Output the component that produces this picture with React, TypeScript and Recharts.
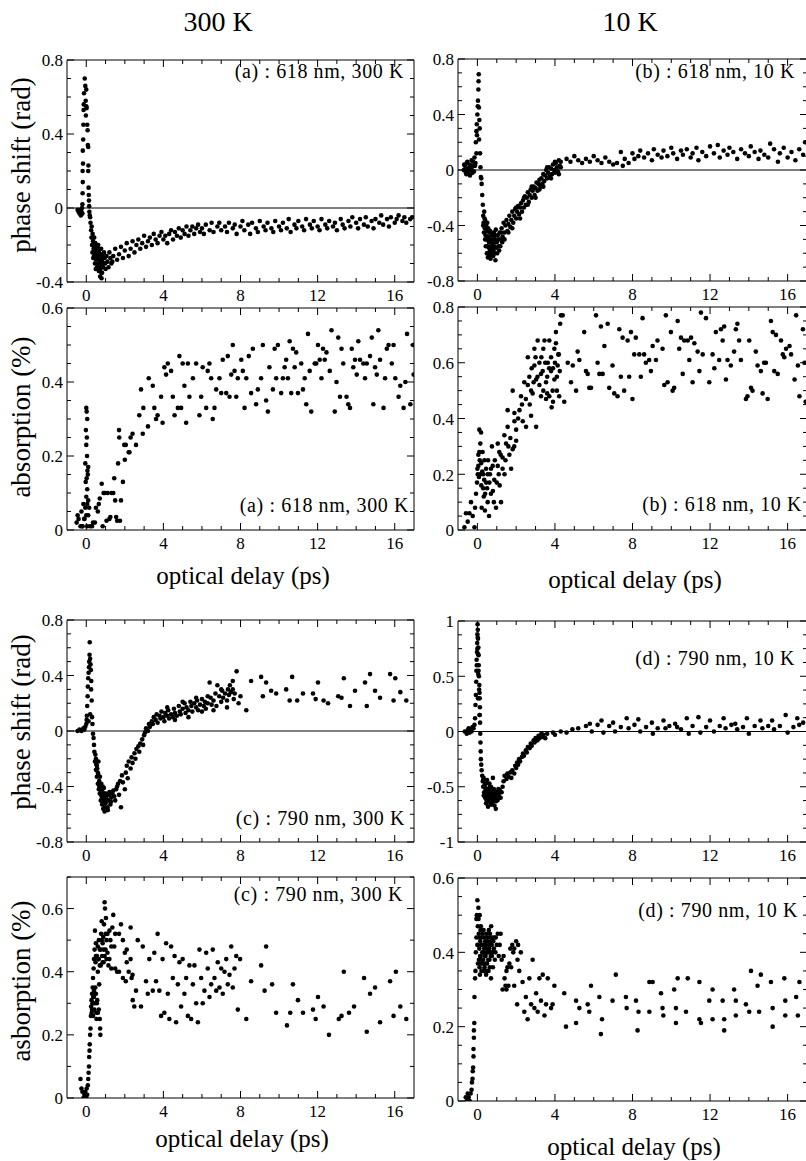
import React from 'react';
import { ScatterChart, Scatter, XAxis, YAxis, ReferenceLine } from 'recharts';

type P = [number, number];

const FONT = '"Liberation Serif", "Times New Roman", Times, serif';

// ---------- tick labels ----------
const xMajorTicks = [0, 4, 8, 12, 16];
const xMinorStep = 1;
const phaseA_yMajor = [-0.4, 0, 0.4, 0.8];
const phaseB_yMajor = [-0.8, -0.4, 0, 0.4, 0.8];
const phaseC_yMajor = [-0.8, -0.4, 0, 0.4, 0.8];
const phaseD_yMajor = [-1, -0.5, 0, 0.5, 1];
const absA_yMajor = [0, 0.2, 0.4, 0.6];
const absB_yMajor = [0, 0.2, 0.4, 0.6, 0.8];
const absC_yMajor = [0, 0.2, 0.4, 0.6];
const absD_yMajor = [0, 0.2, 0.4, 0.6];

// ---------- series values [delay ps, value] ----------
const phase618_300K: P[] = [
  [-0.45,-0.01],[-0.4,-0.02],[-0.35,-0.03],[-0.3,-0.01],[-0.28,-0.04],[-0.25,-0.02],[-0.22,0.0],[-0.2,-0.03],
  [-0.2,0.02],[-0.19,0.08],[-0.18,0.14],[-0.19,0.2],[-0.17,0.24],[-0.18,0.31],[-0.16,0.37],[-0.15,0.45],[-0.14,0.53],
  [-0.13,0.56],[-0.12,0.62],[-0.08,0.7],[-0.05,0.66],[-0.03,0.58],[0.0,0.64],[0.02,0.54],[0.0,0.55],[-0.02,0.5],
  [0.05,0.45],[0.07,0.42],[0.08,0.34],[0.1,0.33],[0.11,0.23],[0.12,0.11],[0.13,0.07],[0.14,0.04],[0.15,0.01],[0.1,0.2],
  [0.16,-0.02],[0.18,-0.04],[0.2,-0.05],
  [0.22,-0.08],[0.25,-0.12],[0.27,-0.16],[0.3,-0.2],[0.32,-0.24],[0.35,-0.18],[0.38,-0.22],[0.4,-0.26],[0.42,-0.2],
  [0.45,-0.3],[0.48,-0.24],[0.5,-0.28],[0.52,-0.22],[0.55,-0.32],[0.57,-0.26],[0.6,-0.3],[0.62,-0.2],[0.65,-0.34],
  [0.67,-0.24],[0.7,-0.28],[0.72,-0.37],[0.75,-0.31],[0.77,-0.22],[0.8,-0.27],[0.82,-0.35],[0.85,-0.25],[0.9,-0.3],
  [0.95,-0.27],[1.0,-0.33],[1.05,-0.26],[1.1,-0.29],
  [0.28,-0.1],[0.33,-0.14],[0.36,-0.27],[0.41,-0.16],[0.44,-0.24],[0.47,-0.19],[0.49,-0.33],[0.53,-0.27],[0.56,-0.24],
  [0.58,-0.2],[0.61,-0.26],[0.63,-0.31],[0.66,-0.22],[0.68,-0.3],[0.71,-0.25],[0.73,-0.33],[0.76,-0.28],[0.78,-0.35],
  [0.79,-0.38],[0.83,-0.29],[0.87,-0.32],[0.92,-0.24],[0.98,-0.3],[1.15,-0.32],[1.25,-0.27],[1.35,-0.29],
  [1.2,-0.24],[1.3,-0.3],[1.4,-0.26],[1.5,-0.22],[1.6,-0.28],[1.7,-0.25],[1.8,-0.21],[1.9,-0.27],[2.0,-0.23],[2.1,-0.19],
  [2.2,-0.26],[2.3,-0.22],[2.4,-0.18],[2.5,-0.24],[2.6,-0.2],[2.7,-0.17],[2.8,-0.22],[2.9,-0.19],[3.0,-0.15],[3.1,-0.21],
  [3.2,-0.18],[3.3,-0.16],[3.4,-0.2],[3.5,-0.14],[3.6,-0.17],[3.7,-0.19],[3.8,-0.15],[3.9,-0.13],[4.0,-0.17],[4.1,-0.15],
  [4.2,-0.19],[4.3,-0.14],[4.4,-0.12],[4.5,-0.17],[4.6,-0.13],[4.7,-0.15],[4.8,-0.11],[4.9,-0.16],[5.0,-0.12],[5.1,-0.14],
  [5.2,-0.1],[5.3,-0.15],[5.4,-0.12],[5.5,-0.1],[5.6,-0.14],[5.7,-0.11],[5.8,-0.09],[5.9,-0.13],[6.0,-0.11],[6.1,-0.14],
  [6.2,-0.09],[6.4,-0.12],[6.5,-0.08],[6.6,-0.13],[6.8,-0.1],[6.9,-0.08],[7.0,-0.12],[7.2,-0.1],[7.3,-0.13],[7.4,-0.08],
  [7.6,-0.11],[7.7,-0.09],[7.8,-0.14],[8.0,-0.1],[8.1,-0.07],[8.2,-0.12],[8.4,-0.09],[8.5,-0.14],[8.6,-0.08],[8.8,-0.11],
  [8.9,-0.13],[9.0,-0.07],[9.2,-0.1],[9.3,-0.12],[9.4,-0.08],[9.6,-0.11],[9.7,-0.13],[9.8,-0.07],[10.0,-0.1],[10.1,-0.12],
  [10.2,-0.08],[10.4,-0.11],[10.5,-0.06],[10.6,-0.13],[10.8,-0.09],[10.9,-0.11],[11.0,-0.07],[11.2,-0.1],[11.3,-0.12],
  [11.4,-0.06],[11.6,-0.09],[11.7,-0.11],[11.8,-0.07],[12.0,-0.1],[12.1,-0.12],[12.2,-0.06],[12.4,-0.09],[12.5,-0.11],
  [12.6,-0.07],[12.8,-0.1],[12.9,-0.08],[13.0,-0.12],[13.2,-0.06],[13.3,-0.09],[13.4,-0.11],[13.6,-0.07],[13.7,-0.1],
  [13.8,-0.05],[14.0,-0.08],[14.1,-0.11],[14.2,-0.06],[14.4,-0.09],[14.5,-0.05],[14.6,-0.1],[14.8,-0.07],[14.9,-0.11],
  [15.0,-0.06],[15.2,-0.08],[15.3,-0.04],[15.4,-0.09],[15.6,-0.06],[15.7,-0.1],[15.8,-0.05],[16.0,-0.08],[16.1,-0.06],
  [16.2,-0.04],[16.4,-0.07],[16.5,-0.05],[16.6,-0.08],[16.8,-0.06],[16.9,-0.05],
];

const phase618_10K: P[] = [
  [-0.7,0.0],[-0.65,0.03],[-0.6,-0.02],[-0.55,0.05],[-0.5,0.01],[-0.45,-0.03],[-0.4,0.04],[-0.35,0.0],[-0.3,0.07],
  [-0.25,-0.02],[-0.2,0.03],[-0.15,0.09],[-0.1,0.05],[-0.05,0.12],
  [-0.68,0.04],[-0.62,0.0],[-0.57,-0.03],[-0.52,0.06],[-0.48,0.0],[-0.42,0.02],[-0.38,-0.04],[-0.32,0.03],[-0.28,0.0],
  [-0.22,0.06],[-0.18,-0.01],[-0.12,0.03],
  [-0.08,0.2],[-0.05,0.28],[-0.03,0.33],[-0.02,0.25],[0.0,0.4],[0.02,0.46],[0.03,0.5],[0.05,0.58],[0.06,0.64],[0.07,0.69],
  [0.08,0.45],[0.1,0.36],[0.12,0.3],[0.09,0.22],[0.14,0.12],[0.16,0.02],[0.18,-0.05],[0.2,-0.06],
  [0.22,-0.1],[0.25,-0.18],[0.28,-0.25],[0.3,-0.33],[0.32,-0.38],[0.35,-0.3],[0.38,-0.42],[0.4,-0.36],[0.42,-0.47],
  [0.45,-0.4],[0.48,-0.5],[0.5,-0.44],[0.52,-0.55],[0.55,-0.48],[0.57,-0.6],[0.6,-0.52],[0.62,-0.45],[0.65,-0.58],
  [0.68,-0.64],[0.7,-0.5],[0.72,-0.56],[0.75,-0.47],[0.78,-0.6],[0.8,-0.53],[0.82,-0.62],[0.85,-0.45],[0.88,-0.55],
  [0.9,-0.5],[0.93,-0.65],[0.95,-0.43],[1.0,-0.52],[1.05,-0.47],[1.1,-0.55],[1.15,-0.45],[1.2,-0.5],
  [0.3,-0.4],[0.34,-0.45],[0.37,-0.35],[0.4,-0.5],[0.43,-0.55],[0.46,-0.43],[0.49,-0.6],[0.51,-0.38],[0.54,-0.63],
  [0.56,-0.42],[0.59,-0.56],[0.61,-0.5],[0.64,-0.62],[0.66,-0.44],[0.69,-0.55],[0.71,-0.6],[0.74,-0.52],[0.77,-0.57],
  [0.79,-0.47],[0.83,-0.58],[0.86,-0.5],[0.89,-0.6],[0.92,-0.47],[0.97,-0.56],[1.02,-0.6],[1.08,-0.5],[1.12,-0.58],
  [1.18,-0.55],[1.22,-0.45],[1.28,-0.52],
  [1.25,-0.42],[1.3,-0.48],[1.35,-0.38],[1.4,-0.45],[1.45,-0.4],[1.5,-0.36],[1.55,-0.44],[1.6,-0.39],[1.65,-0.33],
  [1.7,-0.41],[1.75,-0.36],[1.8,-0.3],[1.85,-0.38],[1.9,-0.33],[1.95,-0.28],[2.0,-0.35],[2.05,-0.3],[2.1,-0.26],
  [2.15,-0.32],[2.2,-0.27],[2.25,-0.24],[2.3,-0.3],[2.35,-0.22],[2.4,-0.27],[2.45,-0.19],[2.5,-0.25],[2.55,-0.2],
  [2.6,-0.16],[2.65,-0.23],[2.7,-0.18],[2.75,-0.14],[2.8,-0.2],[2.85,-0.15],[2.9,-0.12],[2.95,-0.18],[3.0,-0.13],
  [3.05,-0.09],[3.1,-0.15],[3.15,-0.1],[3.2,-0.07],[3.25,-0.12],[3.3,-0.06],[3.35,-0.1],[3.4,-0.03],[3.45,-0.08],
  [3.5,-0.04],[3.55,0.0],[3.6,-0.06],[3.65,-0.02],[3.7,0.02],[3.75,-0.04],[3.8,0.01],[3.85,-0.03],[3.9,0.04],[3.95,0.0],
  [4.0,-0.02],[4.05,0.05],[4.1,0.02],[4.15,-0.01],[4.2,0.07],[4.25,0.03],[4.3,0.06],
  [1.4,-0.5],[1.6,-0.45],[1.8,-0.42],[2.0,-0.27],[2.2,-0.35],[2.4,-0.2],[2.6,-0.25],[2.8,-0.12],[3.0,-0.2],[3.2,-0.14],
  [3.4,-0.12],[3.6,0.02],[3.8,-0.06],[4.0,0.06],[4.2,-0.03],[4.3,0.02],
  [4.6,0.08],[4.8,0.06],[5.0,0.1],[5.2,0.07],[5.4,0.05],[5.6,0.08],[5.8,0.06],[6.0,0.1],[6.2,0.07],[6.4,0.05],[6.6,0.09],
  [6.8,0.06],[7.0,0.04],[7.2,0.05],[7.4,0.13],[7.5,0.03],[7.6,0.08],[7.8,0.05],[8.0,0.12],[8.1,0.08],[8.3,0.1],[8.4,0.14],
  [8.6,0.09],[8.8,0.12],[9.0,0.07],[9.1,0.15],[9.3,0.11],[9.5,0.09],[9.6,0.14],[9.8,0.1],[10.0,0.16],[10.1,0.12],
  [10.3,0.08],[10.5,0.14],[10.6,0.11],[10.8,0.15],[11.0,0.09],[11.1,0.12],[11.3,0.16],[11.4,0.07],[11.6,0.13],[11.8,0.1],
  [12.0,0.17],[12.2,0.12],[12.4,0.18],[12.5,0.09],[12.7,0.14],[12.9,0.11],[13.0,0.16],[13.2,0.13],[13.4,0.08],[13.6,0.15],
  [13.8,0.12],[14.0,0.1],[14.1,0.17],[14.3,0.13],[14.5,0.08],[14.6,0.14],[14.8,0.11],[15.0,0.09],[15.1,0.19],[15.3,0.15],
  [15.5,0.06],[15.6,0.12],[15.8,0.16],[16.0,0.09],[16.2,0.13],[16.4,0.07],[16.6,0.15],[16.8,0.11],[16.9,0.2],
];

const abs618_300K: P[] = [
  [-0.5,0.02],[-0.45,0.04],[-0.4,0.03],[-0.3,0.01],[-0.25,0.05],[-0.2,0.01],[-0.15,0.07],[-0.1,0.03],
  [0.0,0.33],[0.02,0.32],[0.05,0.3],[-0.02,0.27],[0.03,0.25],[0.0,0.23],[0.04,0.2],[-0.05,0.18],[0.06,0.16],[0.1,0.17],
  [0.08,0.15],[0.02,0.14],[-0.03,0.13],[0.05,0.11],[0.0,0.09],[0.1,0.08],[0.05,0.07],[-0.05,0.06],[0.15,0.06],[0.0,0.04],
  [0.1,0.04],[-0.1,0.03],[0.05,0.01],[-0.2,0.01],[0.2,0.01],
  [0.3,0.01],[0.35,0.02],[0.45,0.02],[0.5,0.06],[0.6,0.05],[0.65,0.07],[0.7,0.085],[0.8,0.125],[0.85,0.01],[0.9,0.1],
  [0.95,0.1],[1.05,0.025],[1.1,0.1],[1.2,0.03],[1.25,0.035],[1.3,0.1],[1.4,0.1],[1.45,0.14],[1.5,0.08],[1.55,0.035],
  [1.6,0.025],[1.65,0.18],[1.7,0.27],[1.75,0.025],[1.8,0.08],[1.9,0.13],[2.0,0.19],[2.05,0.23],[2.2,0.21],[2.3,0.25],
  [1.71,0.25],[1.97,0.23],[2.24,0.21],[2.4,0.26],[2.58,0.23],[2.75,0.31],[2.84,0.38],[2.93,0.26],[2.96,0.33],[3.2,0.28],
  [3.24,0.41],[3.45,0.39],[3.53,0.33],[3.62,0.3],[3.7,0.31],[3.88,0.36],[3.96,0.29],[4.05,0.44],[4.14,0.42],[4.23,0.45],
  [4.4,0.43],[4.49,0.36],[4.58,0.31],[4.75,0.33],[4.83,0.47],[4.92,0.33],[5.0,0.45],[5.09,0.39],[5.18,0.29],[5.27,0.45],
  [5.35,0.36],[5.53,0.41],[5.7,0.45],[5.87,0.31],[5.96,0.36],[6.04,0.44],[6.22,0.33],[6.3,0.43],[6.39,0.45],[6.48,0.41],
  [6.56,0.3],[6.65,0.33],[6.74,0.38],[6.91,0.41],[7.0,0.37],[7.08,0.46],[7.26,0.37],[7.34,0.47],[7.43,0.36],[7.52,0.42],
  [7.6,0.5],[7.69,0.43],[7.78,0.36],[7.86,0.41],[8.04,0.46],[8.12,0.43],[8.21,0.33],[8.3,0.41],[8.43,0.47],[8.55,0.37],
  [8.64,0.49],[8.81,0.34],[8.9,0.38],[9.07,0.41],[9.16,0.5],[9.33,0.35],[9.42,0.32],[9.5,0.44],[9.68,0.38],[9.77,0.49],
  [9.85,0.41],[9.94,0.5],[10.11,0.37],[10.2,0.41],[10.29,0.44],[10.37,0.46],[10.46,0.41],[10.55,0.51],[10.63,0.37],
  [10.72,0.49],[10.81,0.44],[10.89,0.48],[10.98,0.37],[11.15,0.45],[11.24,0.38],[11.33,0.41],[11.41,0.34],[11.5,0.53],
  [11.59,0.43],[11.67,0.32],[11.85,0.45],[11.93,0.45],[12.02,0.5],[12.11,0.46],[12.2,0.41],[12.28,0.49],[12.37,0.46],
  [12.46,0.48],[12.63,0.43],[12.72,0.54],[12.89,0.32],[12.98,0.4],[13.07,0.52],[13.16,0.36],[13.24,0.49],[13.33,0.45],
  [13.5,0.36],[13.59,0.34],[13.68,0.33],[13.77,0.49],[13.85,0.44],[13.94,0.46],[14.03,0.42],[14.11,0.51],[14.2,0.46],
  [14.37,0.45],[14.46,0.41],[14.55,0.45],[14.72,0.47],[14.81,0.52],[14.89,0.34],[14.98,0.44],[15.07,0.42],[15.15,0.54],
  [15.24,0.46],[15.42,0.33],[15.5,0.41],[15.59,0.49],[15.68,0.5],[15.85,0.45],[15.94,0.5],[16.03,0.41],[16.2,0.36],
  [16.29,0.39],[16.46,0.33],[16.55,0.4],[16.64,0.53],[16.81,0.34],[16.95,0.5],[16.98,0.42],
];

const abs618_10K: P[] = [
  [-0.67,0.01],[-0.5,0.03],[-0.41,0.06],[-0.59,0.06],[-0.24,0.05],[-0.15,0.01],[-0.33,0.1],[-0.12,0.08],[-0.07,0.13],
  [-0.02,0.17],[0.02,0.2],[0.05,0.23],[0.1,0.28],[0.15,0.31],[0.19,0.35],[0.1,0.36],[0.27,0.28],[0.36,0.25],[0.45,0.17],
  [0.33,0.12],[0.22,0.08],[0.39,0.07],[0.53,0.1],[0.62,0.17],[0.7,0.13],[0.79,0.23],[0.53,0.2],[0.87,0.18],[0.96,0.08],
  [1.05,0.23],[1.13,0.28],[1.22,0.1],[1.05,0.31],[1.3,0.26],[1.39,0.34],[1.48,0.31],[1.56,0.37],[1.65,0.27],[1.74,0.22],
  [1.82,0.29],[1.91,0.39],[2.0,0.32],[1.91,0.42],[1.56,0.43],[1.82,0.5],[2.17,0.43],[2.25,0.48],[2.34,0.39],[2.42,0.53],
  [2.51,0.37],[2.6,0.62],[2.68,0.55],[2.77,0.41],[2.85,0.49],[2.94,0.59],[2.94,0.65],[3.03,0.54],[3.11,0.68],[3.2,0.6],
  [3.28,0.48],[3.37,0.57],[3.46,0.68],[3.54,0.53],[3.63,0.6],[3.71,0.68],[3.8,0.57],[3.83,0.44],[3.88,0.5],[3.97,0.54],
  [4.05,0.67],[4.14,0.59],[4.17,0.63],[4.22,0.48],[4.27,0.74],[4.31,0.77],[3.03,0.37],[2.77,0.5],[3.28,0.56],[3.54,0.47],
  [3.71,0.48],[3.97,0.65],[4.05,0.71],[0.6,0.05],[0.85,0.1],[1.15,0.16],[1.4,0.2],[0.3,0.2],[0.2,0.24],[0.75,0.3],
  [0.0,0.22],[0.05,0.27],[0.08,0.19],[0.12,0.25],[0.15,0.2],[0.2,0.16],[0.25,0.21],[0.3,0.15],[0.35,0.18],[0.4,0.13],
  [0.45,0.22],[0.5,0.15],[0.55,0.25],[0.65,0.2],[0.7,0.22],[0.8,0.14],[0.9,0.25],[1.0,0.17],[1.1,0.2],[1.2,0.27],
  [1.3,0.22],[1.45,0.25],[1.6,0.3],[1.7,0.33],[1.9,0.3],[2.0,0.36],[2.1,0.4],[2.3,0.45],[2.5,0.47],[2.6,0.52],[2.7,0.45],
  [2.9,0.53],[3.1,0.55],[3.2,0.52],[3.3,0.62],[3.4,0.5],[3.5,0.6],[3.6,0.55],[3.7,0.58],[3.8,0.62],[3.9,0.58],[4.0,0.6],
  [4.1,0.55],[4.2,0.63],[4.25,0.57],[3.4,0.65],[3.0,0.62],[2.8,0.58],[3.6,0.49],[3.9,0.46],[4.1,0.5],
  [4.4,0.77],[4.48,0.46],[4.66,0.6],[4.83,0.53],[4.92,0.59],[5.09,0.5],[5.17,0.64],[5.26,0.61],[5.51,0.71],[5.6,0.57],
  [5.69,0.56],[5.77,0.51],[5.86,0.51],[6.12,0.77],[6.2,0.6],[6.29,0.56],[6.37,0.73],[6.46,0.56],[6.55,0.66],[6.72,0.74],
  [6.8,0.51],[6.97,0.59],[7.06,0.49],[7.23,0.48],[7.32,0.72],[7.4,0.55],[7.49,0.69],[7.57,0.5],[7.75,0.68],[7.83,0.55],
  [7.92,0.71],[8.0,0.47],[8.09,0.63],[8.17,0.69],[8.35,0.63],[8.43,0.55],[8.52,0.76],[8.6,0.63],[8.69,0.6],[8.86,0.61],
  [8.95,0.57],[9.04,0.66],[9.21,0.61],[9.29,0.68],[9.55,0.65],[9.64,0.52],[9.72,0.77],[9.81,0.53],[9.98,0.71],
  [10.07,0.5],[10.15,0.51],[10.33,0.75],[10.41,0.65],[10.5,0.69],[10.59,0.56],[10.67,0.68],[10.85,0.68],[10.93,0.61],
  [11.02,0.69],[11.1,0.53],[11.19,0.67],[11.36,0.64],[11.45,0.57],[11.53,0.78],[11.62,0.63],[11.79,0.76],[11.96,0.53],
  [12.13,0.63],[12.22,0.58],[12.3,0.71],[12.47,0.61],[12.56,0.72],[12.65,0.68],[12.73,0.73],[12.82,0.54],[12.9,0.61],
  [13.07,0.59],[13.24,0.64],[13.33,0.72],[13.41,0.74],[13.5,0.68],[13.59,0.61],[13.85,0.47],[13.93,0.48],[14.02,0.68],
  [14.11,0.51],[14.19,0.5],[14.36,0.64],[14.45,0.59],[14.62,0.57],[14.71,0.49],[14.79,0.6],[14.88,0.6],[14.97,0.47],
  [15.14,0.75],[15.23,0.71],[15.31,0.57],[15.4,0.7],[15.49,0.56],[15.66,0.68],[15.75,0.63],[15.83,0.62],[15.92,0.65],
  [16.1,0.66],[16.18,0.63],[16.36,0.54],[16.44,0.77],[16.53,0.59],[16.61,0.48],[16.79,0.72],[16.87,0.6],[16.93,0.46],
];

const phase790_300K: P[] = [
  [-0.45,0.0],[-0.35,0.01],[-0.25,0.0],[-0.15,0.02],[-0.1,0.01],[-0.05,0.03],[0.0,0.05],[0.02,0.08],[0.03,0.11],
  [0.05,0.18],[0.07,0.25],[0.08,0.32],[0.1,0.38],[0.12,0.42],[0.14,0.46],[0.15,0.5],[0.17,0.55],[0.18,0.64],[0.2,0.52],
  [0.22,0.48],[0.24,0.44],[0.26,0.36],[0.25,0.3],[0.28,0.22],[0.3,0.1],[0.32,0.05],[0.12,0.07],[0.2,0.12],[0.35,-0.02],
  [0.38,-0.05],
  [0.4,-0.1],[0.42,-0.15],[0.45,-0.22],[0.47,-0.17],[0.5,-0.28],[0.52,-0.24],[0.55,-0.33],[0.57,-0.27],[0.6,-0.38],
  [0.62,-0.31],[0.65,-0.42],[0.67,-0.36],[0.7,-0.45],[0.72,-0.39],[0.75,-0.5],[0.77,-0.43],[0.8,-0.47],[0.82,-0.53],
  [0.85,-0.4],[0.88,-0.56],[0.9,-0.48],[0.93,-0.45],[0.95,-0.58],[1.0,-0.52],[1.05,-0.47],[1.1,-0.55],[1.15,-0.5],
  [1.2,-0.44],[1.25,-0.53],[1.3,-0.48],[1.4,-0.43],[1.5,-0.5],[1.6,-0.4],[1.7,-0.46],[1.8,-0.55],[1.9,-0.37],[2.0,-0.42],
  [0.5,-0.2],[0.55,-0.25],[0.6,-0.3],[0.63,-0.22],[0.68,-0.4],[0.71,-0.33],[0.74,-0.45],[0.78,-0.38],[0.81,-0.5],
  [0.84,-0.44],[0.87,-0.52],[0.91,-0.41],[0.94,-0.5],[0.97,-0.55],[1.02,-0.45],[1.08,-0.5],[1.12,-0.57],[1.18,-0.46],
  [1.28,-0.51],[1.35,-0.45],[1.45,-0.47],[1.55,-0.42],[1.65,-0.38],[1.75,-0.36],[1.85,-0.32],
  [2.05,-0.3],[2.1,-0.25],[2.15,-0.34],[2.2,-0.22],[2.3,-0.27],[2.35,-0.19],[2.4,-0.23],[2.5,-0.16],[2.55,-0.2],
  [2.6,-0.13],[2.7,-0.11],[2.75,-0.15],[2.8,-0.09],[2.9,-0.06],[2.95,-0.1],[3.0,-0.03],[3.05,-0.01],[3.1,0.02],[3.2,0.0],
  [3.25,0.05],[3.3,0.03],[3.4,0.07],[3.45,0.05],[3.5,0.1],[3.6,0.08],[3.65,0.12],[3.7,0.06],[3.8,0.11],[3.85,0.09],
  [3.9,0.14],[4.0,0.1],[4.05,0.07],[4.1,0.13],[4.2,0.11],[4.25,0.15],[4.3,0.09],[4.4,0.12],[4.5,0.1],[4.55,0.16],
  [4.6,0.13],[4.7,0.11],[4.8,0.18],[4.85,0.14],[4.9,0.12],[5.0,0.16],[5.1,0.2],[5.15,0.13],[5.2,0.17],[5.3,0.15],
  [5.4,0.21],[5.45,0.18],[5.5,0.14],[5.6,0.2],[5.7,0.17],[5.75,0.22],[5.8,0.15],[5.9,0.19],[6.0,0.23],[6.1,0.18],
  [6.15,0.21],[6.2,0.16],[6.3,0.2],[6.4,0.35],[6.45,0.24],[6.5,0.19],[6.6,0.22],[6.7,0.27],[6.75,0.18],[6.8,0.33],
  [6.9,0.25],[7.0,0.21],[7.05,0.29],[7.1,0.24],[7.2,0.27],[7.3,0.22],[7.35,0.3],[7.4,0.26],[7.5,0.28],[7.6,0.36],
  [7.65,0.23],[7.7,0.27],[7.8,0.43],[7.9,0.2],[8.0,0.25],
  [4.2,0.17],[4.6,0.08],[5.0,0.21],[5.3,0.1],[5.7,0.24],[6.0,0.14],[6.3,0.25],[6.6,0.15],[7.0,0.3],[7.3,0.17],[7.6,0.3],
  [7.45,0.33],
  [8.3,0.15],[8.55,0.36],[9.07,0.39],[9.16,0.25],[9.33,0.35],[9.59,0.29],[9.85,0.27],[10.37,0.3],[10.55,0.22],
  [10.68,0.39],[10.94,0.22],[11.24,0.27],[11.76,0.27],[11.9,0.23],[12.02,0.35],[12.31,0.22],[12.54,0.2],[13.07,0.25],
  [13.24,0.24],[13.36,0.38],[13.68,0.18],[13.94,0.29],[14.46,0.35],[14.55,0.18],[14.72,0.41],[14.98,0.29],[15.24,0.24],
  [15.76,0.41],[15.94,0.22],[16.03,0.38],[16.29,0.28],[16.6,0.22],
];

const phase790_10K: P[] = [
  [-0.65,0.0],[-0.55,-0.02],[-0.5,0.01],[-0.45,0.03],[-0.4,-0.01],[-0.35,0.02],[-0.3,0.0],[-0.25,0.04],[-0.2,0.03],
  [-0.15,0.06],
  [-0.12,0.12],[-0.1,0.24],[-0.08,0.33],[-0.06,0.45],[-0.05,0.55],[-0.04,0.65],[-0.02,0.72],[-0.01,0.8],[0.0,0.88],
  [0.01,0.97],[0.02,0.92],[0.03,0.84],[0.05,0.76],[0.06,0.69],[0.07,0.6],[0.04,0.52],[0.08,0.5],[0.1,0.42],[0.11,0.35],
  [0.12,0.3],[0.13,0.22],[0.12,0.15],[0.14,0.08],[0.15,-0.02],[0.16,-0.1],[0.17,-0.18],[0.18,-0.25],[0.2,-0.3],
  [0.22,-0.35],
  [-0.03,0.6],[0.0,0.75],[0.02,0.85],[0.04,0.7],[0.06,0.55],[0.09,0.38],[0.03,0.3],[0.11,0.15],
  [0.25,-0.4],[0.28,-0.45],[0.3,-0.5],[0.32,-0.42],[0.35,-0.55],[0.38,-0.48],[0.4,-0.6],[0.42,-0.52],[0.45,-0.65],
  [0.48,-0.56],[0.5,-0.44],[0.52,-0.6],[0.55,-0.68],[0.58,-0.53],[0.6,-0.62],[0.62,-0.47],[0.65,-0.57],[0.68,-0.66],
  [0.7,-0.5],[0.72,-0.6],[0.75,-0.55],[0.78,-0.64],[0.8,-0.42],[0.82,-0.58],[0.85,-0.52],[0.88,-0.67],[0.9,-0.6],
  [0.95,-0.7],[1.0,-0.55],[1.05,-0.62],[1.1,-0.58],[1.15,-0.53],[1.2,-0.6],[1.25,-0.55],[1.3,-0.5],
  [0.3,-0.44],[0.33,-0.58],[0.37,-0.5],[0.41,-0.55],[0.44,-0.47],[0.47,-0.62],[0.51,-0.52],[0.54,-0.58],[0.57,-0.63],
  [0.61,-0.55],[0.64,-0.5],[0.67,-0.61],[0.71,-0.56],[0.74,-0.66],[0.77,-0.52],[0.81,-0.63],[0.84,-0.57],[0.87,-0.6],
  [0.92,-0.55],[0.98,-0.63],[1.03,-0.57],[1.08,-0.52],[1.13,-0.6],[1.18,-0.55],
  [1.35,-0.45],[1.4,-0.4],[1.5,-0.43],[1.55,-0.38],[1.6,-0.41],[1.7,-0.37],[1.75,-0.42],[1.8,-0.35],[1.9,-0.38],
  [1.95,-0.31],[2.0,-0.33],[2.05,-0.28],[2.1,-0.3],[2.15,-0.25],[2.2,-0.27],[2.3,-0.23],[2.35,-0.2],[2.4,-0.22],
  [2.5,-0.17],[2.55,-0.19],[2.6,-0.14],[2.7,-0.15],[2.75,-0.11],[2.8,-0.13],[2.9,-0.08],[2.95,-0.1],[3.0,-0.06],
  [3.1,-0.08],[3.15,-0.04],[3.2,-0.06],[3.3,-0.02],[3.35,-0.05],[3.4,-0.03],[3.5,-0.06],[3.6,-0.02],[3.9,-0.01],
  [4.0,-0.03],[4.3,0.0],[4.6,-0.01],
  [4.9,0.02],[5.2,0.03],[5.6,0.05],[5.8,0.07],[5.9,0.0],[6.2,0.06],[6.4,0.1],[6.5,-0.01],[6.8,0.05],[7.0,0.08],[7.1,0.0],
  [7.4,0.04],[7.7,0.12],[7.8,0.03],[8.1,0.06],[8.3,0.11],[8.4,0.0],[8.7,0.04],[9.0,0.08],[9.05,-0.02],[9.3,0.03],
  [9.6,0.1],[9.7,0.03],[9.9,0.05],[10.2,0.07],[10.3,0.04],[10.5,0.02],[10.8,0.12],[10.9,-0.02],[11.1,0.05],[11.4,0.13],
  [11.5,-0.01],[11.8,0.04],[12.0,0.1],[12.2,0.0],[12.5,0.05],[12.7,0.12],[12.8,0.03],[13.1,0.06],[13.3,0.07],[13.4,0.02],
  [13.7,0.04],[13.9,0.12],[14.0,-0.02],[14.3,0.05],[14.6,0.1],[14.7,0.03],[15.0,0.05],[15.2,0.1],[15.3,0.02],[15.6,0.05],
  [15.9,0.15],[16.0,-0.01],[16.3,0.04],[16.5,0.12],[16.6,0.06],[16.8,0.08],
];

const abs790_300K: P[] = [
  [-0.3,0.06],[-0.25,0.03],[-0.2,0.02],[-0.15,0.0],[-0.1,0.01],[-0.05,0.02],[0.0,0.0],[0.02,0.03],[0.05,0.01],[0.08,0.04],
  [0.1,0.06],[0.12,0.08],[0.14,0.1],[0.15,0.13],[0.17,0.15],[0.18,0.17],
  [0.2,0.2],[0.22,0.22],[0.24,0.26],[0.25,0.29],[0.27,0.31],[0.28,0.27],[0.3,0.33],[0.32,0.3],[0.33,0.35],[0.35,0.38],
  [0.36,0.32],[0.38,0.41],[0.4,0.44],[0.42,0.28],[0.43,0.47],[0.45,0.53],[0.47,0.35],[0.48,0.43],[0.5,0.49],[0.52,0.27],
  [0.53,0.25],[0.55,0.45],[0.57,0.31],[0.6,0.4],[0.62,0.44],[0.65,0.5],[0.67,0.36],[0.7,0.47],[0.72,0.22],[0.73,0.2],
  [0.75,0.42],[0.77,0.52],[0.8,0.56],[0.82,0.45],[0.85,0.49],[0.88,0.51],[0.9,0.43],[0.92,0.55],[0.95,0.62],[0.97,0.6],
  [1.0,0.47],[1.02,0.57],[1.05,0.44],[1.1,0.52],[1.15,0.42],[1.2,0.53],[1.25,0.5],[1.3,0.41],[1.35,0.54],[1.4,0.58],
  [1.45,0.48],[1.5,0.41],[1.6,0.4],[1.7,0.4],[1.8,0.55],[1.9,0.38],[2.0,0.46],[2.05,0.37],[2.1,0.43],[2.2,0.4],[2.3,0.54],
  [2.35,0.38],[2.4,0.39],
  [0.3,0.28],[0.35,0.3],[0.4,0.34],[0.45,0.3],[0.5,0.33],[0.55,0.3],[0.6,0.27],[0.65,0.44],[0.7,0.42],[0.75,0.47],
  [0.8,0.5],[0.85,0.43],[0.9,0.47],[0.95,0.45],[1.0,0.52],[1.05,0.5],[0.6,0.48],[0.5,0.45],[0.4,0.32],[0.35,0.26],
  [0.7,0.25],[0.65,0.28],[1.1,0.46],[1.2,0.44],[1.3,0.48],[1.5,0.52],[1.7,0.52],[1.9,0.5],[2.1,0.47],[2.3,0.44],
  [2.41,0.31],[2.49,0.29],[2.58,0.34],[2.67,0.5],[2.84,0.29],[2.93,0.48],[3.1,0.37],[3.19,0.33],[3.27,0.44],[3.45,0.34],
  [3.53,0.46],[3.62,0.37],[3.7,0.52],[3.79,0.34],[3.88,0.26],[3.96,0.44],[4.05,0.27],[4.14,0.49],[4.23,0.33],[4.31,0.25],
  [4.4,0.48],[4.49,0.38],[4.58,0.45],[4.66,0.24],[4.75,0.36],[4.83,0.43],[4.92,0.29],[5.0,0.44],[5.09,0.33],[5.18,0.38],
  [5.27,0.26],[5.35,0.42],[5.44,0.25],[5.53,0.36],[5.61,0.42],[5.7,0.3],[5.79,0.24],[5.87,0.47],[5.96,0.38],[6.04,0.3],
  [6.13,0.34],[6.22,0.46],[6.3,0.41],[6.39,0.32],[6.48,0.36],[6.56,0.47],[6.65,0.38],[6.74,0.34],[6.82,0.43],[6.91,0.35],
  [7.0,0.41],[7.08,0.33],[7.17,0.4],[7.26,0.44],[7.34,0.36],[7.43,0.39],[7.52,0.48],[7.6,0.35],[7.69,0.41],[7.78,0.45],
  [7.86,0.28],[7.98,0.44],
  [8.3,0.25],[8.55,0.37],[9.07,0.42],[9.25,0.34],[9.33,0.48],[9.64,0.36],[9.85,0.27],[10.41,0.23],[10.58,0.27],
  [10.72,0.36],[10.98,0.31],[11.24,0.27],[11.76,0.28],[11.9,0.25],[12.02,0.32],[12.31,0.29],[12.59,0.2],[13.1,0.25],
  [13.24,0.26],[13.36,0.4],[13.63,0.27],[13.89,0.29],[14.41,0.38],[14.55,0.21],[14.72,0.33],[14.98,0.35],[15.24,0.24],
  [15.76,0.37],[15.94,0.26],[16.06,0.4],[16.29,0.29],[16.6,0.25],
];

const abs790_10K: P[] = [
  [-0.6,0.01],[-0.55,0.0],[-0.5,0.02],[-0.45,0.01],[-0.4,0.0],[-0.35,0.02],[-0.3,0.03],[-0.28,0.05],[-0.25,0.06],
  [-0.24,0.08],[-0.22,0.09],[-0.2,0.12],[-0.2,0.14],[-0.18,0.17],[-0.18,0.19],[-0.16,0.21],[-0.15,0.28],[-0.12,0.33],
  [-0.1,0.35],[-0.08,0.4],[-0.05,0.44],[-0.05,0.49],[-0.03,0.5],[0.0,0.54],[0.02,0.47],[0.05,0.52],[0.07,0.45],
  [0.08,0.38],[0.1,0.41],[0.12,0.5],[0.13,0.34],[0.15,0.43],[0.17,0.39],[0.18,0.47],[0.2,0.37],[0.22,0.44],[0.25,0.4],
  [0.27,0.35],[0.28,0.42],[0.3,0.38],[0.32,0.46],[0.35,0.41],[0.37,0.36],[0.4,0.43],[0.42,0.39],[0.45,0.34],[0.47,0.41],
  [0.5,0.37],[0.52,0.44],[0.55,0.4],[0.57,0.35],[0.6,0.42],[0.62,0.38],[0.65,0.45],[0.67,0.4],[0.7,0.33],[0.72,0.43],
  [0.75,0.39],[0.78,0.44],[0.8,0.36],[0.85,0.41],[0.9,0.38],[0.95,0.44],[1.0,0.42],[1.1,0.39],[1.2,0.45],[1.3,0.3],
  [1.35,0.39],[1.4,0.33],[1.5,0.3],[1.55,0.36],[1.6,0.31],[1.7,0.41],[1.8,0.42],[1.9,0.41],[2.0,0.43],[2.05,0.26],
  [2.1,0.42],
  [0.0,0.42],[0.03,0.37],[0.06,0.49],[0.09,0.44],[0.11,0.36],[0.14,0.39],[0.16,0.46],[0.19,0.42],[0.21,0.35],[0.23,0.38],
  [0.26,0.45],[0.29,0.37],[0.31,0.4],[0.34,0.35],[0.36,0.44],[0.39,0.39],[0.41,0.42],[0.44,0.37],[0.46,0.45],[0.49,0.4],
  [0.51,0.35],[0.54,0.43],[0.56,0.38],[0.59,0.46],[0.61,0.41],[0.64,0.36],[0.66,0.44],[0.69,0.39],[0.71,0.47],[0.74,0.42],
  [0.77,0.4],[0.82,0.43],[0.88,0.44],[0.93,0.4],[1.05,0.45],[1.15,0.42],[1.25,0.38],[1.45,0.31],[1.5,0.35],[1.65,0.37],
  [1.85,0.4],
  [1.74,0.36],[1.9,0.31],[2.07,0.38],[2.16,0.35],[2.24,0.4],[2.33,0.32],[2.42,0.24],[2.5,0.28],[2.59,0.22],[2.68,0.33],
  [2.77,0.26],[2.85,0.38],[2.94,0.25],[3.03,0.29],[3.11,0.24],[3.2,0.33],[3.28,0.27],[3.37,0.34],[3.46,0.23],[3.54,0.26],
  [3.63,0.33],[3.8,0.25],[3.88,0.26],[3.97,0.31],
  [4.48,0.29],[4.57,0.2],[5.09,0.27],[5.09,0.21],[5.26,0.25],[5.69,0.26],[5.77,0.24],[5.86,0.31],[6.29,0.28],[6.37,0.18],
  [6.43,0.22],[6.97,0.27],[7.14,0.34],[7.66,0.28],[7.7,0.25],[8.18,0.27],[8.26,0.19],[8.31,0.24],[8.87,0.24],[8.87,0.32],
  [9.04,0.32],[9.47,0.29],[9.55,0.25],[9.59,0.23],[10.15,0.3],[10.24,0.25],[10.24,0.21],[10.33,0.33],[10.85,0.33],
  [10.76,0.24],[11.45,0.32],[11.45,0.22],[11.53,0.21],[11.96,0.27],[12.13,0.3],[12.13,0.22],[12.65,0.27],[12.73,0.19],
  [12.73,0.22],[13.24,0.3],[13.33,0.27],[13.33,0.23],[13.85,0.26],[14.02,0.24],[14.11,0.35],[14.45,0.31],[14.53,0.24],
  [14.62,0.34],[15.14,0.32],[15.23,0.25],[15.23,0.2],[15.83,0.33],[15.88,0.27],[15.88,0.23],[16.44,0.28],[16.53,0.23],
  [16.61,0.32],
];

// ---------- panel layout ----------
type Cfg = {
  id: string; data: P[]; left: number; top: number; w: number; h: number;
  domain: [number, number]; major: number[]; minorStep: number; zero: boolean;
};

const LEFT_X = 67, LEFT_W = 347, RIGHT_X = 458, RIGHT_W = 349;

const panels: Cfg[] = [
  { id: 'a1', data: phase618_300K, left: LEFT_X, top: 60, w: LEFT_W, h: 222, domain: [-0.4, 0.8], major: phaseA_yMajor, minorStep: 0.1, zero: true },
  { id: 'b1', data: phase618_10K, left: RIGHT_X, top: 59, w: RIGHT_W, h: 222, domain: [-0.8, 0.8], major: phaseB_yMajor, minorStep: 0.1, zero: true },
  { id: 'a2', data: abs618_300K, left: LEFT_X, top: 308, w: LEFT_W, h: 222, domain: [0, 0.6], major: absA_yMajor, minorStep: 0.05, zero: false },
  { id: 'b2', data: abs618_10K, left: RIGHT_X, top: 307, w: RIGHT_W, h: 223, domain: [0, 0.8], major: absB_yMajor, minorStep: 0.05, zero: false },
  { id: 'c1', data: phase790_300K, left: LEFT_X, top: 620, w: LEFT_W, h: 222, domain: [-0.8, 0.8], major: phaseC_yMajor, minorStep: 0.1, zero: true },
  { id: 'd1', data: phase790_10K, left: RIGHT_X, top: 621, w: RIGHT_W, h: 221, domain: [-1, 1], major: phaseD_yMajor, minorStep: 0.125, zero: true },
  { id: 'c2', data: abs790_300K, left: LEFT_X, top: 877, w: LEFT_W, h: 221, domain: [0, 0.7], major: absC_yMajor, minorStep: 0.1, zero: false },
  { id: 'd2', data: abs790_10K, left: RIGHT_X, top: 878, w: RIGHT_W, h: 223, domain: [0, 0.6], major: absD_yMajor, minorStep: 0.05, zero: false },
];

const isIn = (arr: number[], v: number) => arr.some((m) => Math.abs(m - v) < 1e-6);
const fmt = (v: number) => String(Math.round(v * 100) / 100);

function stepTicks(min: number, max: number, step: number): number[] {
  const out: number[] = [];
  const n = Math.round((max - min) / step);
  for (let i = 0; i <= n; i++) out.push(Math.round((min + i * step) * 10000) / 10000);
  return out;
}

const xTicks = stepTicks(0, 16, xMinorStep);

const Dot = (p: any) => (p.cx == null ? null : <circle cx={p.cx} cy={p.cy} r={2.3} fill="#000" />);

function PanelChart({ cfg }: { cfg: Cfg }) {
  const ML = 60, MR = 8, MT = 8, MB = 30;
  const W = cfg.w + ML + MR;
  const H = cfg.h + MT + MB;
  const yTicks = stepTicks(cfg.domain[0], cfg.domain[1], cfg.minorStep);

  const XTickB = (p: any) => {
    const v = p.payload.value;
    const major = isIn(xMajorTicks, v);
    return (
      <g>
        <line x1={p.x} x2={p.x} y1={p.y} y2={p.y - (major ? 7 : 4)} stroke="#000" strokeWidth={1} />
        {major && (
          <text x={p.x} y={p.y + 19} textAnchor="middle" fontFamily={FONT} fontSize={17} fill="#000">{fmt(v)}</text>
        )}
      </g>
    );
  };
  const XTickT = (p: any) => {
    const major = isIn(xMajorTicks, p.payload.value);
    return <line x1={p.x} x2={p.x} y1={p.y} y2={p.y + (major ? 7 : 4)} stroke="#000" strokeWidth={1} />;
  };
  const YTickL = (p: any) => {
    const v = p.payload.value;
    const major = isIn(cfg.major, v);
    return (
      <g>
        <line x1={p.x} x2={p.x + (major ? 7 : 4)} y1={p.y} y2={p.y} stroke="#000" strokeWidth={1} />
        {major && (
          <text x={p.x - 4} y={p.y} dy="0.38em" textAnchor="end" fontFamily={FONT} fontSize={17} fill="#000">{fmt(v)}</text>
        )}
      </g>
    );
  };
  const YTickR = (p: any) => {
    const major = isIn(cfg.major, p.payload.value);
    return <line x1={p.x} x2={p.x - (major ? 7 : 4)} y1={p.y} y2={p.y} stroke="#000" strokeWidth={1} />;
  };

  const data = cfg.data.map(([x, y]) => ({ x, y }));
  const axisLine = { stroke: '#000', strokeWidth: 1 };

  return (
    <div style={{ position: 'absolute', left: cfg.left - ML, top: cfg.top - MT, width: W, height: H }}>
      <ScatterChart width={W} height={H} margin={{ top: 0, right: 0, bottom: 0, left: 0 }}>
        <XAxis xAxisId="b" orientation="bottom" type="number" dataKey="x" domain={[-1, 17]} ticks={xTicks} interval={0}
          tickSize={0} tickMargin={0} tick={XTickB} tickLine={false} height={MB}
          axisLine={axisLine} allowDataOverflow />
        <XAxis xAxisId="t" orientation="top" type="number" dataKey="x" domain={[-1, 17]} ticks={xTicks} interval={0}
          tickSize={0} tickMargin={0} tick={XTickT} tickLine={false} height={MT}
          axisLine={axisLine} allowDataOverflow />
        <YAxis yAxisId="l" orientation="left" type="number" dataKey="y" domain={cfg.domain} ticks={yTicks} interval={0}
          tickSize={0} tickMargin={0} tick={YTickL} tickLine={false} width={ML}
          axisLine={axisLine} allowDataOverflow />
        <YAxis yAxisId="r" orientation="right" type="number" dataKey="y" domain={cfg.domain} ticks={yTicks} interval={0}
          tickSize={0} tickMargin={0} tick={YTickR} tickLine={false} width={MR}
          axisLine={axisLine} allowDataOverflow />
        {cfg.zero && <ReferenceLine xAxisId="b" yAxisId="l" y={0} stroke="#000" strokeWidth={1} />}
        <Scatter xAxisId="b" yAxisId="l" data={data} dataKey="y" isAnimationActive={false} shape={Dot} />
      </ScatterChart>
    </div>
  );
}

const columnTitles = ['300 K', '10 K'];
const panelNotes = [
  { t: '(a) : 618 nm, 300 K', x: 404, y: 78 },
  { t: '(b) : 618 nm, 10 K', x: 795, y: 78 },
  { t: '(a) : 618 nm, 300 K', x: 409, y: 512 },
  { t: '(b) : 618 nm, 10 K', x: 802, y: 511 },
  { t: '(c) : 790 nm, 300 K', x: 405, y: 825 },
  { t: '(d) : 790 nm, 10 K', x: 795, y: 665 },
  { t: '(c) : 790 nm, 300 K', x: 403, y: 901 },
  { t: '(d) : 790 nm, 10 K', x: 798, y: 917 },
];
const yLabels = [
  { t: 'phase shift (rad)', cy: 165 },
  { t: 'absorption (%)', cy: 417 },
  { t: 'phase shift (rad)', cy: 722 },
  { t: 'asborption (%)', cy: 981 },
];
const xLabels = [
  { x: 243, y: 584 },
  { x: 635, y: 588 },
  { x: 242, y: 1147 },
  { x: 634, y: 1155 },
];

export default function App() {
  return (
    <div style={{ position: 'absolute', left: 0, top: 0, width: 806, height: 1161, overflow: 'hidden', background: '#fff' }}>
      {panels.map((p) => (
        <PanelChart key={p.id} cfg={p} />
      ))}
      <svg width={806} height={1161} style={{ position: 'absolute', left: 0, top: 0, pointerEvents: 'none' }}>
        <text x={218} y={31} textAnchor="middle" fontFamily={FONT} fontSize={28} fill="#000">{columnTitles[0]}</text>
        <text x={630} y={31} textAnchor="middle" fontFamily={FONT} fontSize={28} fill="#000">{columnTitles[1]}</text>
        {panelNotes.map((n, i) => (
          <text key={i} x={n.x} y={n.y} textAnchor="end" fontFamily={FONT} fontSize={20} letterSpacing={0.6} fill="#000">{n.t}</text>
        ))}
        {yLabels.map((l, i) => (
          <text key={i} x={30} y={l.cy} textAnchor="middle" fontFamily={FONT} fontSize={27} fill="#000"
            transform={`rotate(-90 30 ${l.cy})`}>{l.t}</text>
        ))}
        {xLabels.map((l, i) => (
          <text key={i} x={l.x} y={l.y} textAnchor="middle" fontFamily={FONT} fontSize={25} fill="#000">optical delay (ps)</text>
        ))}
      </svg>
    </div>
  );
}
